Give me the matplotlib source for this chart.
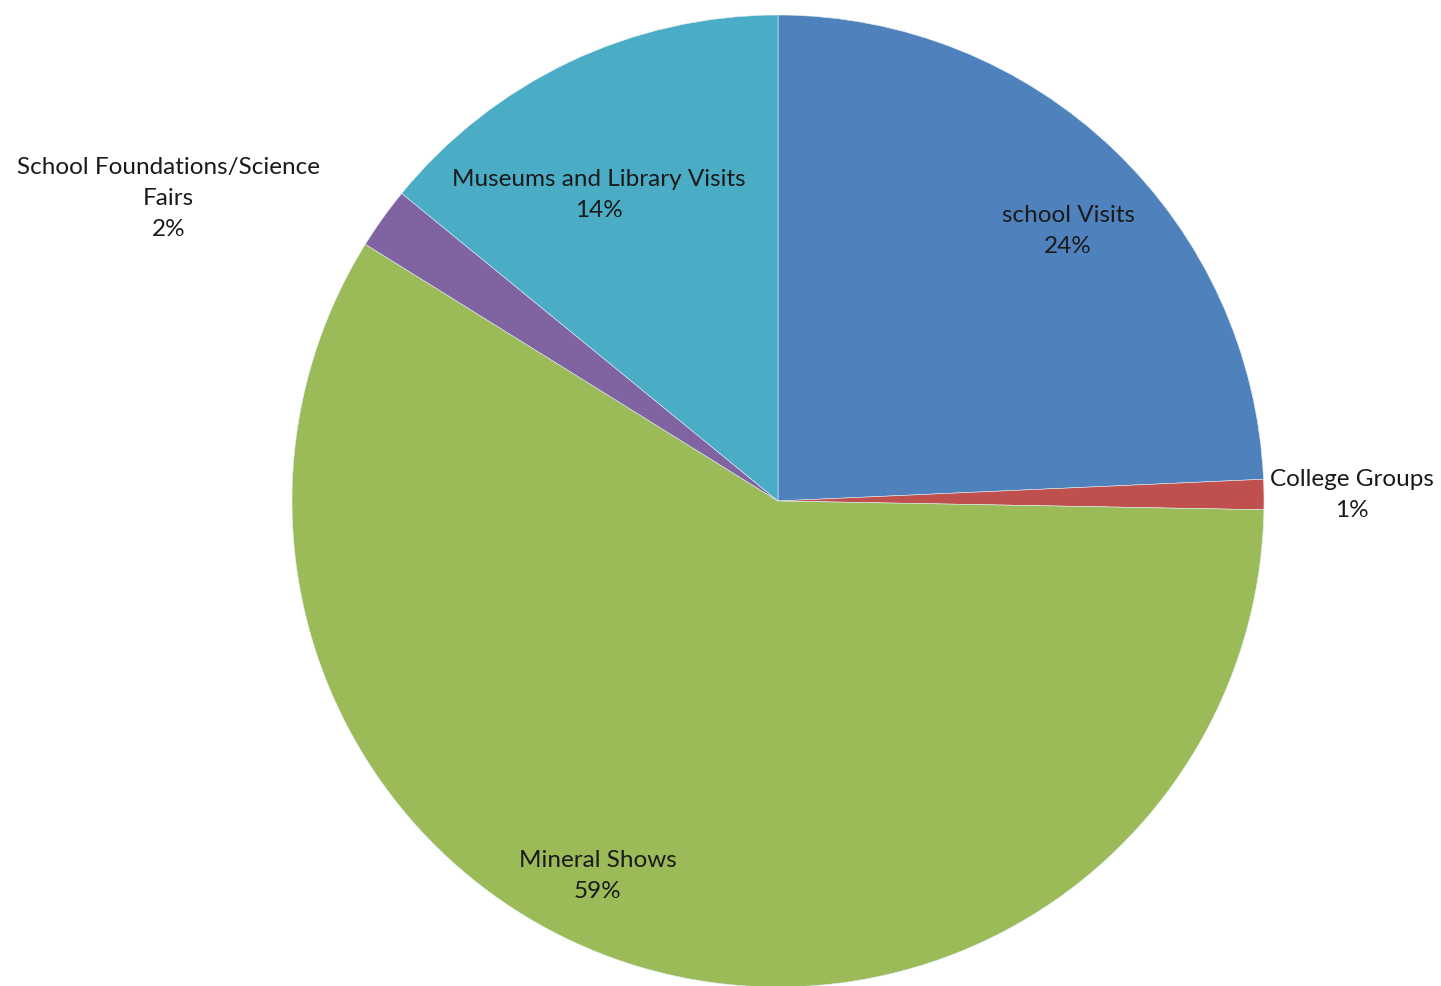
import numpy as np
import matplotlib.pyplot as plt

plt.rcParams['font.family'] = ['Lato', 'DejaVu Sans']

# Share of outreach events by venue, clockwise from 12 o'clock
categories = ["school Visits", "College Groups", "Mineral Shows",
              "School Foundations/Science\nFairs", "Museums and Library Visits"]
shares = [24.3, 1.0, 58.6, 2.05, 14.1]
colors = ["#4F81BD", "#C0504D", "#9BBB59", "#8064A2", "#4BACC6"]

# label placement: (angle in degrees, distance in radii) per slice
label_pos = [(42.9, 0.815), (0.6, 1.18), (244.3, 0.857), (153.6, 1.40), (120.3, 0.73)]

W, H = 1441, 986
fig = plt.figure(figsize=(W / 100, H / 100), dpi=100)
ax = fig.add_axes([0, 0, 1, 1])

cx, cy, R = 778, H - 501, 486
ax.pie(shares, colors=colors, startangle=90, counterclock=False,
       center=(cx, cy), radius=R,
       wedgeprops=dict(edgecolor="#dfeef5", linewidth=0.4))
ax.set_xlim(0, W)
ax.set_ylim(0, H)
ax.set_aspect("equal")
ax.axis("off")

total = sum(shares)
for name, v, (ang, dist) in zip(categories, shares, label_pos):
    a = np.deg2rad(ang)
    x = cx + dist * R * np.cos(a)
    y = cy + dist * R * np.sin(a)
    ax.text(x, y, f"{name}\n{v / total * 100:.0f}%", ha="center", va="center",
            fontsize=17.5, color="#1a1a1a", linespacing=1.6)

fig.savefig("out.png", dpi=100, facecolor="white")
